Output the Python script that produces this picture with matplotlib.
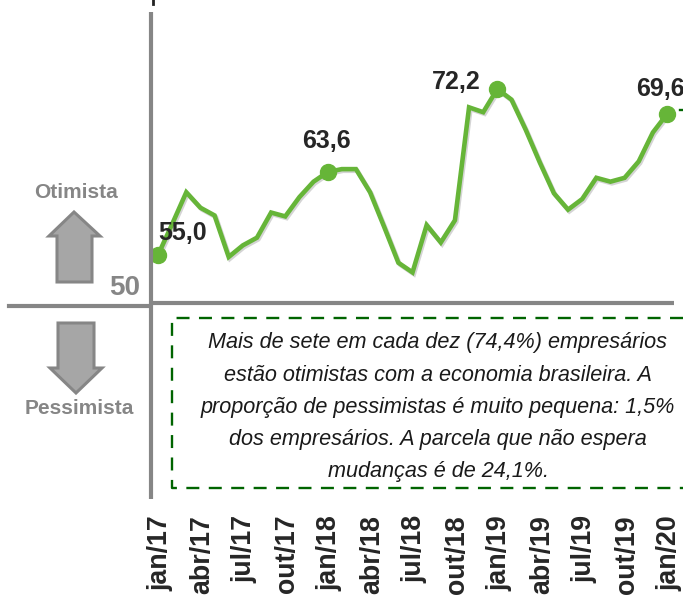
import matplotlib
matplotlib.use('Agg')
import matplotlib.pyplot as plt
import matplotlib.patheffects as pe
from matplotlib.lines import Line2D
from matplotlib.patches import Polygon
from matplotlib.transforms import Affine2D, ScaledTranslation

plt.rcParams['font.family'] = ['Liberation Sans', 'DejaVu Sans']

W, H = 683, 597

months = list(range(37))
values = [55.0, 58.2, 61.5, 59.9, 59.1, 54.8, 56.0, 56.8, 59.4, 59.0, 61.0, 62.6,
          63.6, 63.9, 63.9, 61.5, 57.9, 54.2, 53.2, 58.1, 56.3, 58.6, 70.3, 69.8,
          72.2, 71.1, 68.0, 64.6, 61.4, 59.7, 60.8, 63.0, 62.6, 63.0, 64.7, 67.7,
          69.6]
tick_pos = list(range(0, 37, 3))
tick_labels = ['jan/17', 'abr/17', 'jul/17', 'out/17', 'jan/18', 'abr/18', 'jul/18',
               'out/18', 'jan/19', 'abr/19', 'jul/19', 'out/19', 'jan/20']
marked = [0, 12, 24, 36]
label_offsets = [(25, 22), (-1, 31), (-41, 7), (-7, 25)]

note_lines = ['Mais de sete em cada dez (74,4%) empresários',
              'estão otimistas com a economia brasileira. A',
              'proporção de pessimistas é muito pequena: 1,5%',
              'dos empresários. A parcela que não espera',
              'mudanças é de 24,1%.']
note_y = [348, 381, 413, 445, 477]

GREEN = '#66B538'
GRAY = '#868686'
DARK = '#262626'
BOX = '#006400'

fig = plt.figure(figsize=(W / 100, H / 100), dpi=100)
ax = fig.add_axes([151 / W, 1 - 499 / H, (W - 151) / W, (499 - 12) / H])
px = Affine2D().scale(1 / W, -1 / H).translate(0, 1) + fig.transFigure

ax.set_xlim(-0.495, 37.13)
ax.set_ylim(29.72, 80.18)
for s in ['top', 'right', 'bottom']:
    ax.spines[s].set_visible(False)
ax.spines['left'].set_linewidth(3)
ax.spines['left'].set_color(GRAY)
ax.spines['left'].set_capstyle('butt')
ax.set_yticks([])
ax.set_xticks(tick_pos)
ax.set_xticklabels(tick_labels, rotation=90, fontweight='bold', fontsize=19.3, color=DARK)
ax.tick_params(axis='x', length=0, pad=11.5)
shift = ScaledTranslation(2 / 100, 0, fig.dpi_scale_trans)
for lab in ax.get_xticklabels():
    lab.set_transform(lab.get_transform() + shift)

ax.axhline(50, xmax=(674 - 151) / (W - 151), color=GRAY, lw=3, solid_capstyle='butt')
fig.add_artist(Line2D([9, 148], [305.5, 305.5], transform=px, color=GRAY, lw=3))
fig.add_artist(Line2D([153, 153], [0, 4], transform=px, color='#222222', lw=2))
fig.add_artist(Line2D([680, 683], [110, 110], transform=px, color=BOX, lw=1.7))

ax.plot(months, values, color=GREEN, lw=3.3, solid_joinstyle='miter',
        path_effects=[pe.SimpleLineShadow(offset=(1, -1.2), shadow_color='#555555', alpha=0.25),
                      pe.Normal()])
ax.plot([months[i] for i in marked], [values[i] for i in marked], 'o', color=GREEN, ms=11.5)
for i, off in zip(marked, label_offsets):
    ax.annotate(f'{values[i]:.1f}'.replace('.', ','), (months[i], values[i]), xytext=off,
                textcoords='offset pixels', ha='center', va='center',
                fontweight='bold', fontsize=18, color=DARK)

# setas e rotulos da esquerda
up = [(74, 212), (100, 236), (92, 236), (92, 282), (57, 282), (57, 236), (49, 236)]
down = [(76, 393), (102, 368), (94, 368), (94, 323), (58, 323), (58, 368), (50, 368)]
for pts in [up, down]:
    fig.add_artist(Polygon(pts, closed=True, transform=px, facecolor='#A6A6A6',
                           edgecolor=GRAY, lw=2.2))
fig.text(76, 192, 'Otimista', transform=px, ha='center', va='center',
         fontweight='bold', fontsize=15, color=GRAY)
fig.text(79, 409, 'Pessimista', transform=px, ha='center', va='center',
         fontweight='bold', fontsize=15, color=GRAY)
fig.text(125, 288, '50', transform=px, ha='center', va='center',
         fontweight='bold', fontsize=20, color=GRAY)

# caixa tracejada, aberta a direita
fig.add_artist(Line2D([683, 172, 172, 683], [318, 318, 488, 488], transform=px, color=BOX,
                      lw=1.7, linestyle=(0, (5.5, 4))))
for line, y in zip(note_lines, note_y):
    fig.text(438, y, line, transform=px, ha='center', va='baseline', style='italic',
             fontsize=15.6, color='#1a1a1a')

fig.savefig('out.png', dpi=100)
